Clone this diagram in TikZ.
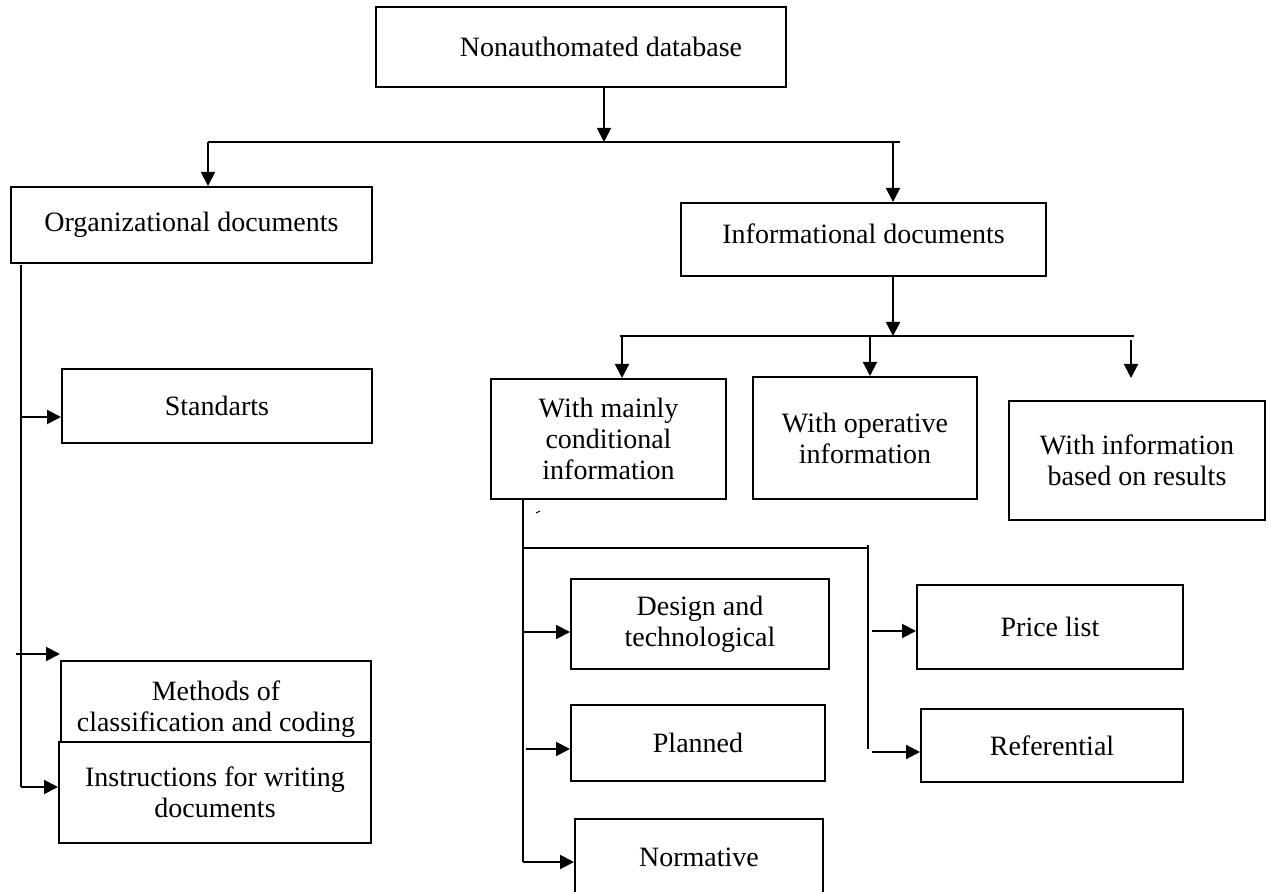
\documentclass[tikz,border=0pt]{standalone}
\usepackage{fontspec}
\setmainfont{Liberation Serif}
\usetikzlibrary{arrows.meta,calc}
\begin{document}
\begin{tikzpicture}[x=0.5pt,y=-0.5pt,
  box/.style={draw,line width=1pt,fill=white,align=center,inner sep=0pt,
    font=\fontsize{14}{15.5}\selectfont},
  conn/.style={line width=1pt},
  thinconn/.style={line width=0.6pt},
  arr/.style={line width=1pt,-{Triangle[length=7pt,width=7pt]}}]
\clip (0,0) rectangle (1269,892);
\fill[white] (0,0) rectangle (1269,892);
% boxes
\node[box,minimum width=205pt,minimum height=40pt] (top) at (581,47) {\hspace*{20pt}Nonauthomated database};
\node[box,minimum width=180.5pt,minimum height=38pt] (org) at (191.5,225) {Organizational documents};
\node[box,minimum width=182.5pt,minimum height=36.5pt] (info) at (863.5,239.5) {\raisebox{5.5pt}{Informational documents}};
\node[box,minimum width=155pt,minimum height=37pt] (std) at (217,406) {Standarts};
\node[box,minimum width=155pt,minimum height=48pt] (meth) at (216,709) {Methods of\\classification and coding};
\node[box,minimum width=156pt,minimum height=50.5pt] (instr) at (215,792.5) {Instructions for writing\\documents};
\node[box,minimum width=117.5pt,minimum height=60pt] (mainly) at (608.5,439) {With mainly\\conditional\\information};
\node[box,minimum width=112pt,minimum height=61pt] (oper) at (865,438) {With operative\\information};
\node[box,minimum width=128pt,minimum height=59.5pt] (res) at (1137,460.5) {With information\\based on results};
\node[box,minimum width=129pt,minimum height=45pt] (design) at (700,624) {Design and\\technological};
\node[box,minimum width=127pt,minimum height=38pt] (plan) at (698,743) {Planned};
\node[box,minimum width=124pt,minimum height=38pt] (norm) at (699,857) {Normative};
\node[box,minimum width=133pt,minimum height=42pt] (price) at (1050,627) {Price list};
\node[box,minimum width=131pt,minimum height=36.5pt] (ref) at (1052,745.5) {Referential};
% junction coordinates
\coordinate (b1L) at (208,142);
\coordinate (b1C) at (604,142);
\coordinate (b1R) at (893,142);
\coordinate (b1E) at (900,142);
\coordinate (lT) at (21,265);
\coordinate (lB) at (21,787);
\coordinate (b2L) at (622,336);
\coordinate (b2C) at (893,336);
\coordinate (b2M) at (870,336);
\coordinate (b2R) at (1131,340);
\coordinate (b2E) at (1134,336);
\coordinate (sT) at (523,502);
\coordinate (sB) at (523,862);
\coordinate (b3R) at (868,548);
\coordinate (b3B) at (868,749);
% level 1
\draw[arr] (top.south -| b1C) -- (b1C);
\draw[conn] (b1L) -- (b1E);
\draw[arr] (b1L) -- (org.north -| b1L);
\draw[arr] (b1R) -- (info.north -| b1R);
% organizational branch
\draw[thinconn] (lT) -- (lB);
\draw[arr] (lT |- 0,417) -- (std.west |- 0,417);
\draw[arr] (16,654) -- (meth.north west |- 0,654);
\draw[arr] (lB) -- (instr.west |- lB);
% informational branch
\draw[arr] (info.south -| b2C) -- (b2C);
\draw[thinconn] (620,336) -- (b2E);
\draw[arr] (b2L) -- (mainly.north -| b2L);
\draw[arr] (b2M) -- (oper.north -| b2M);
\draw[arr] (b2R) -- (1131,378);
% conditional information branch
\draw[conn] (mainly.south -| sT) -- (sB);
\draw[line width=0.5pt] (536,513) -- (540,511);
\draw[conn] (sT |- b3R) -- (b3R);
\draw[conn] (868,545) -- (b3B);
\draw[arr] (524,632) -- (design.west |- 0,632);
\draw[arr] (526,749) -- (plan.west |- 0,749);
\draw[arr] (sB) -- (norm.west |- sB);
\draw[arr] (872,631) -- (price.west |- 0,631);
\draw[arr] (872,752) -- (ref.west |- 0,752);
\end{tikzpicture}
\end{document}
